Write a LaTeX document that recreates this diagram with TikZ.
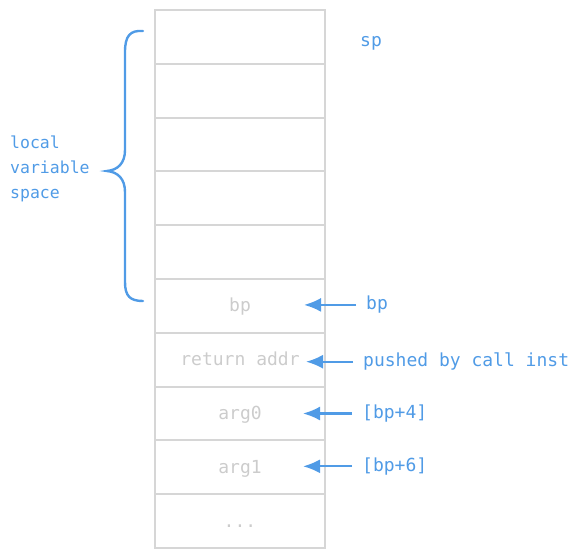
\documentclass[tikz,border=0pt]{standalone}
\usepackage{fontspec}
\setmonofont{DejaVu Sans Mono}
\usetikzlibrary{arrows.meta, positioning}
\definecolor{StackBlue}{RGB}{80, 155, 230}
\definecolor{StackGrey}{RGB}{214, 214, 214}
\definecolor{StackText}{RGB}{204, 204, 204}

\begin{document}
\begin{tikzpicture}[x=1pt, y=-1pt,
    cell/.style={draw=StackGrey, line width=2pt, minimum width=170pt, minimum height=53.8pt, inner sep=0pt, text height=14pt, text depth=2pt, text=StackText, font=\ttfamily\fontsize{18}{20}\selectfont},
    note/.style={text=StackBlue, inner sep=2pt, font=\ttfamily\fontsize{18}{20}\selectfont},
    ptr/.style={draw=StackBlue, line width=2.2pt, shorten <=8pt, -{Latex[length=17pt, width=14pt]}}]
    \useasboundingbox (0,0) rectangle (581,558);

    % the stack cells
    \node[cell] (csp) at (240,36.9) {};
    \node[cell] (cloc2) at (240,90.7) {};
    \node[cell] (cloc3) at (240,144.5) {};
    \node[cell] (cloc4) at (240,198.3) {};
    \node[cell] (cloc5) at (240,252.1) {};
    \node[cell] (cbp) at (240,305.9) {bp};
    \node[cell] (cret) at (240,359.7) {return addr};
    \node[cell] (carg0) at (240,413.5) {arg0};
    \node[cell] (carg1) at (240,467.3) {arg1};
    \node[cell] (cmore) at (240,521.1) {...};

    % labels on the right
    \node[note, anchor=west, right=32pt of csp.east, yshift=-6pt] (nsp) {sp};
    \node[note, anchor=west, right=38pt of cbp.east, yshift=1pt] (nbp) {bp};
    \node[note, anchor=west, right=35pt of cret.east, yshift=-2pt] (nret) {pushed by call inst};
    \node[note, anchor=west, right=34pt of carg0.east] (narg0) {[bp+4]};
    \node[note, anchor=west, right=34pt of carg1.east, yshift=1pt] (narg1) {[bp+6]};

    \draw[ptr] (nbp.west) -- ([xshift=-22pt]cbp.east |- nbp.west);
    \draw[ptr] (nret.west) -- ([xshift=-20pt]cret.east |- nret.west);
    \draw[ptr] (narg0.west) -- ([xshift=-23pt]carg0.east |- narg0.west);
    \draw[ptr] (narg1.west) -- ([xshift=-23pt]carg1.east |- narg1.west);

    % local variable space
    \node[note, anchor=west, align=left, font=\ttfamily\fontsize{16.5}{25}\selectfont] (nlocal) at (8,169) {local\\variable\\space};
    \coordinate (btop) at (143,31);
    \coordinate (btip) at (107,171);
    \coordinate (bbot) at (143,301);
    \draw[StackBlue, line width=2.4pt, line cap=round] (btop) .. controls (130,30) and (125,36) .. (125,52)
      -- (125,150) .. controls (125,163) and (118,170) .. (btip)
      .. controls (118,172) and (125,179) .. (125,192)
      -- (125,282) .. controls (125,296) and (130,301) .. (bbot);
  \end{tikzpicture}
\end{document}
